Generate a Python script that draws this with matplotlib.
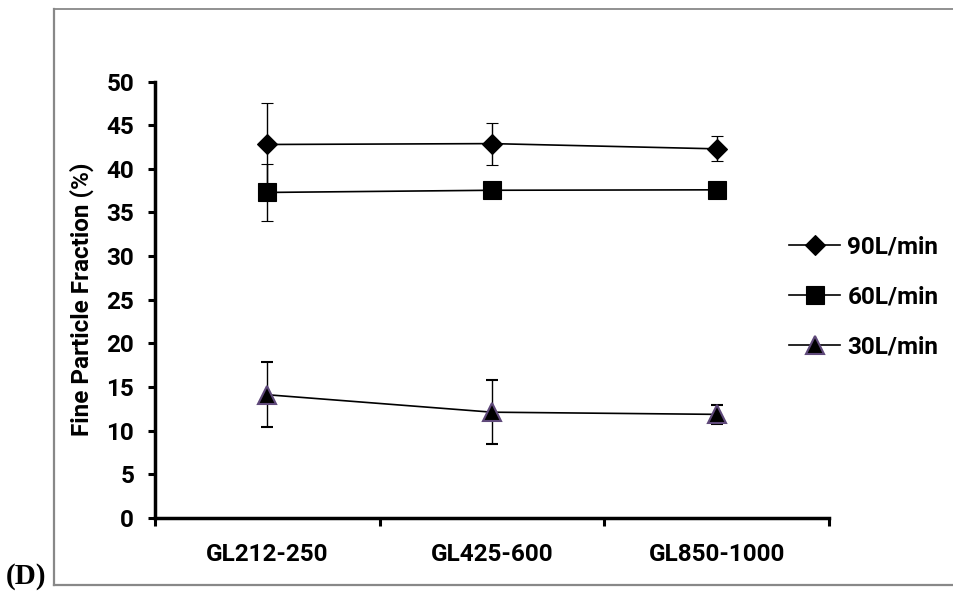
import matplotlib
matplotlib.use("Agg")
import numpy as np
import matplotlib.pyplot as plt
from matplotlib.lines import Line2D

# fine particle fraction (%) for each grade of lactose, per flow rate
grades = ["GL212-250", "GL425-600", "GL850-1000"]
fpf_90 = [42.8, 42.9, 42.3]
err_90 = [4.8, 2.4, 1.45]
fpf_60 = [37.3, 37.55, 37.6]
err_60 = [3.3, 0.9, 0.9]
fpf_30 = [14.1, 12.1, 11.85]
err_30 = [3.75, 3.7, 1.1]
labels = ["90L/min", "60L/min", "30L/min"]
yticks = [0, 5, 10, 15, 20, 25, 30, 35, 40, 45, 50]

plt.rcParams['font.family'] = ['Roboto', 'DejaVu Sans']
plt.rcParams['font.weight'] = 'bold'

fig = plt.figure(figsize=(9.54, 5.97), dpi=100)
ax = fig.add_axes([155/954, 1-517.7/597, (829-155)/954, (517.7-81.7)/597])

x = np.arange(len(grades))
purple = '#5f497a'

series = [
    (fpf_90, err_90, dict(marker='D', ms=9.8, mfc='black', mec='black', mew=0.8)),
    (fpf_60, err_60, dict(marker='s', ms=13.5, mfc='black', mec='black', mew=0.8)),
    (fpf_30, err_30, dict(marker='^', ms=13, mfc='black', mec=purple, mew=1.5)),
]
handles = []
for (vals, errs, mk), lab in zip(series, labels):
    ax.errorbar(x, vals, yerr=errs, color='black', lw=1.2, elinewidth=1.0,
                ecolor='black', capsize=4, capthick=1.0, zorder=3, **mk)
    handles.append(Line2D([], [], color='black', lw=1.2, **mk))

ax.set_xlim(-0.5, 2.5)
ax.set_ylim(0, 50)
ax.set_yticks(yticks)
ax.set_xticks([-0.5, 0.5, 1.5, 2.5])
ax.set_xticklabels([])
ax.set_xticks(x, minor=True)
ax.set_xticklabels(grades, minor=True)
ax.tick_params(axis='x', which='minor', length=0, pad=18, labelsize=17.5)
ax.tick_params(axis='x', which='major', length=6, width=2.2, direction='out')
ax.tick_params(axis='y', length=5, width=2.2, direction='out', pad=10, labelsize=17.5)
for lab in ax.get_yticklabels() + ax.get_xticklabels(minor=True):
    lab.set_fontweight('bold')

for s in ['top', 'right']:
    ax.spines[s].set_visible(False)
for s in ['left', 'bottom']:
    ax.spines[s].set_linewidth(2.5)

ax.set_ylabel("Fine Particle Fraction (%)", fontsize=17.5, fontweight='bold', labelpad=9)

leg = fig.legend(handles, labels, loc='center left', bbox_to_anchor=(789/954, 1-297/597),
                 frameon=False, borderpad=0, borderaxespad=0, handlelength=2.1,
                 handletextpad=0.3, labelspacing=1.1,
                 prop={'size': 17.5, 'weight': 'bold'})

# outer frame around the panel
fc = '#888888'
fig.add_artist(Line2D([54.5/954, 54.5/954], [1-9/597, 1-584.5/597], color=fc, lw=1.6))
fig.add_artist(Line2D([54.5/954, 1], [1-9/597, 1-9/597], color=fc, lw=1.3))
fig.add_artist(Line2D([54.5/954, 1], [1-584.5/597, 1-584.5/597], color=fc, lw=1.6))

fig.text(6/954, 1-577/597, "(D)", family='Liberation Serif', fontweight='bold',
         fontsize=21, va='center', ha='left')

fig.savefig("out.png", dpi=100)
